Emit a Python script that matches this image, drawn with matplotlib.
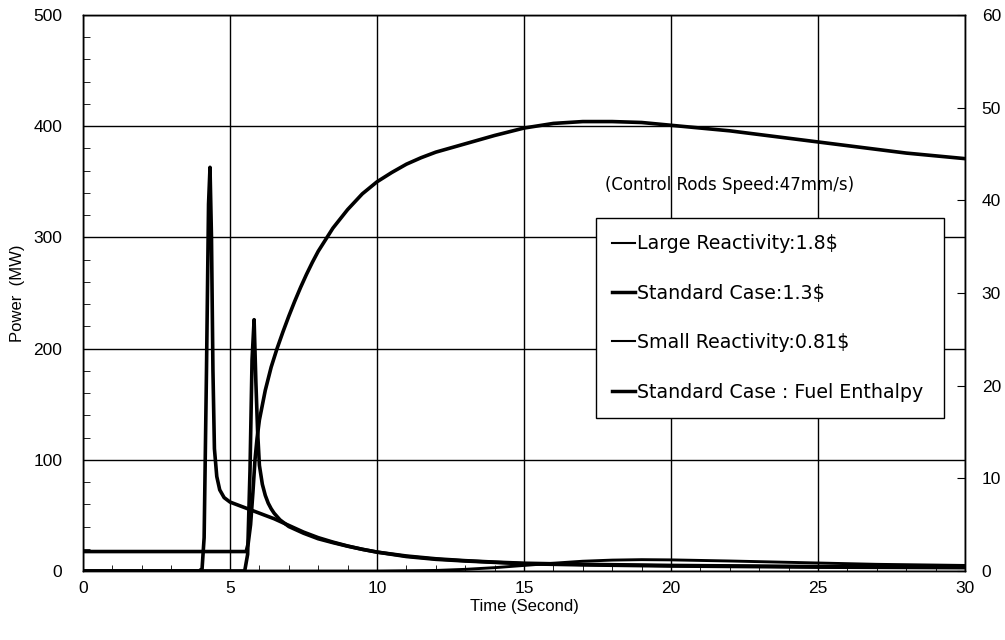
import matplotlib
matplotlib.use("Agg")
import matplotlib.pyplot as plt
from matplotlib.lines import Line2D
from matplotlib.ticker import MultipleLocator

plt.rcParams['font.family'] = ['Liberation Sans', 'DejaVu Sans']

# ---- data ----
t_large = [0, 3.95, 4.05, 4.12, 4.2, 4.27, 4.32, 4.37, 4.42, 4.47, 4.55, 4.65, 4.8, 5.0, 5.5,
           6.0, 6.5, 7.0, 7.5, 8.0, 8.5, 9.0, 9.5, 10.0, 11.0, 12.0, 13.0, 15.0, 17.0, 20.0, 25.0, 30.0]
p_large = [0, 0, 2, 30, 180, 330, 363, 300, 180, 110, 85, 73, 66, 62, 57,
           52, 47, 41, 35, 30, 26, 22.5, 19.5, 17, 13, 10.5, 9, 6.5, 5.5, 4.5, 3.5, 3]

t_std = [0, 5.5, 5.6, 5.68, 5.75, 5.82, 5.88, 5.94, 6.0, 6.1, 6.2, 6.3, 6.4, 6.5, 6.7, 7.0,
         7.5, 8.0, 8.5, 9.0, 9.5, 10.0, 11.0, 12.0, 13.0, 14.0, 15.0, 17.0, 20.0, 25.0, 30.0]
p_std = [0, 0, 15, 90, 190, 226, 170, 125, 95, 78, 68, 61, 56, 52, 46, 40,
         34, 29, 25.5, 22.3, 19.5, 17, 13.5, 11, 9.3, 8, 7, 6, 5, 4, 3.5]

t_small = [0, 10.0, 12.0, 13.0, 14.0, 15.0, 16.0, 17.0, 18.0, 19.0, 20.0, 22.0, 25.0, 27.0, 30.0]
p_small = [0, 0, 0.5, 1.5, 3, 5, 7, 8.8, 9.8, 10.2, 10, 9, 7.2, 6, 5]

t_enth = [0, 5.55, 5.62, 5.7, 5.78, 5.85, 5.92, 6.0, 6.2, 6.4, 6.6, 6.8, 7.0, 7.2, 7.4, 7.6,
          7.8, 8.0, 8.5, 9.0, 9.5, 10.0, 10.5, 11.0, 11.5, 12.0, 13.0, 14.0, 15.0, 16.0,
          17.0, 18.0, 19.0, 20.0, 21.0, 22.0, 23.0, 24.0, 25.0, 26.0, 27.0, 28.0, 29.0, 30.0]
h_enth = [2.1, 2.1, 3.0, 5.0, 8.5, 12.0, 14.3, 16.3, 19.5, 22.0, 24.0, 25.8, 27.5, 29.1, 30.6, 32.0,
          33.3, 34.5, 37.0, 39.0, 40.7, 42.0, 43.0, 43.9, 44.6, 45.2, 46.1, 47.0, 47.8, 48.3,
          48.5, 48.5, 48.4, 48.1, 47.8, 47.5, 47.1, 46.7, 46.3, 45.9, 45.5, 45.1, 44.8, 44.5]

legend_labels = ["Large Reactivity:1.8\\$", "Standard Case:1.3\\$",
                 "Small Reactivity:0.81\\$", "Standard Case : Fuel Enthalpy"]
x_ticks = [0, 5, 10, 15, 20, 25, 30]
y_ticks = [0, 100, 200, 300, 400, 500]
y2_ticks = [0, 10, 20, 30, 40, 50, 60]

# ---- figure ----
fig = plt.figure(figsize=(10.05, 6.4), dpi=100)
ax = fig.add_axes([83 / 1005, 1 - 571 / 640, 882 / 1005, 556 / 640])
ax2 = ax.twinx()

lw = 2.6
ax.plot(t_large, p_large, color='black', lw=lw, solid_joinstyle='round')
ax.plot(t_std, p_std, color='black', lw=lw, solid_joinstyle='round')
ax.plot(t_small, p_small, color='black', lw=lw * 0.8)
ax2.plot(t_enth, h_enth, color='black', lw=lw, solid_joinstyle='round')

ax.set_xlim(0, 30)
ax.set_ylim(0, 500)
ax2.set_ylim(0, 60)
ax.set_xticks(x_ticks)
ax.set_yticks(y_ticks)
ax2.set_yticks(y2_ticks)
ax.xaxis.set_minor_locator(MultipleLocator(1))
ax.yaxis.set_minor_locator(MultipleLocator(20))

ax.grid(True, which='major', color='black', lw=1.0)
ax.set_axisbelow(True)

ax.tick_params(axis='both', which='both', direction='in', colors='black', labelsize=12.5)
ax.tick_params(axis='x', which='major', length=0, pad=7)
ax.tick_params(axis='x', which='minor', length=4)
ax.tick_params(axis='y', which='major', length=0, pad=15)
ax.tick_params(axis='y', which='minor', length=5)
ax2.tick_params(axis='y', direction='in', length=6, labelsize=12.5, pad=12)

for a in (ax, ax2):
    for s in a.spines.values():
        s.set_linewidth(1.0)
        s.set_color('black')

ax.set_xlabel("Time (Second)", fontsize=12, labelpad=2)
ax.set_ylabel("Power  (MW)", fontsize=12, labelpad=6)

ax.text((605 - 83) / 882, (571 - 185) / 556, "(Control Rods Speed:47mm/s)",
        transform=ax.transAxes, ha='left', va='center', fontsize=12,
        family=['DejaVu Sans'])

handles = [Line2D([0], [0], color='black', lw=1.5),
           Line2D([0], [0], color='black', lw=2.5),
           Line2D([0], [0], color='black', lw=1.5),
           Line2D([0], [0], color='black', lw=2.5)]
x0 = (596 - 83) / 882
x1 = (944 - 83) / 882
ytop = (571 - 218) / 556
ybot = (571 - 413) / 556
leg = ax2.legend(handles, legend_labels, loc='upper left', mode='expand',
                 bbox_to_anchor=(x0, ybot, x1 - x0, ytop - ybot),
                 prop={'family': ['DejaVu Sans'], 'size': 13.7},
                 frameon=True, fancybox=False, framealpha=1,
                 edgecolor='black', labelspacing=1.6, handlelength=1.2,
                 handletextpad=0.1, borderpad=0.85, borderaxespad=0)
leg.get_frame().set_linewidth(1.0)

fig.savefig("out.png", dpi=100)
